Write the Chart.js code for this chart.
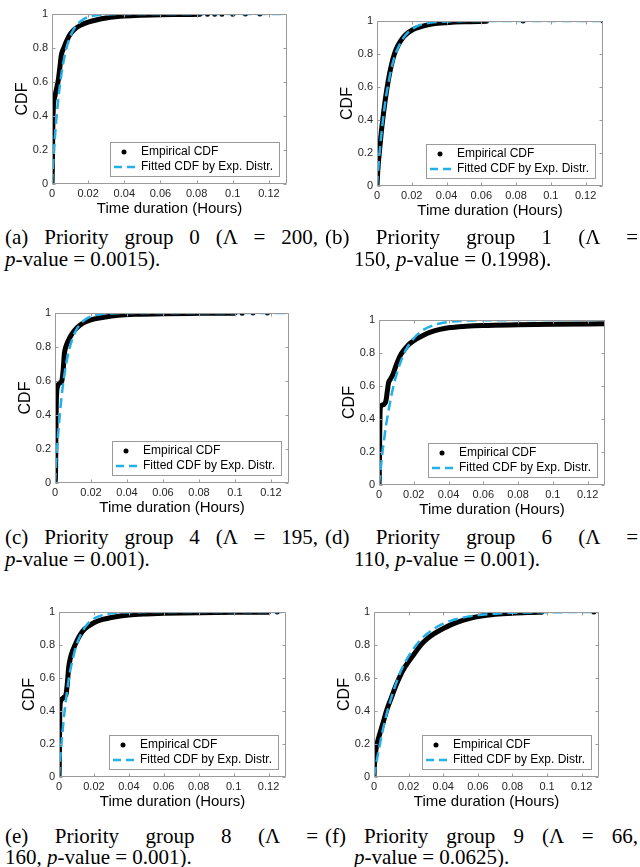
<!DOCTYPE html>
<html>
<head>
<meta charset="utf-8">
<script src="https://cdn.jsdelivr.net/npm/chart.js@4.4.0/dist/chart.umd.min.js"></script>
<style>
  body { margin: 0; background: #fff; }
  #page { position: relative; width: 640px; height: 867px; overflow: hidden; }
  canvas { position: absolute; }
  .cap {
    position: absolute;
    font-family: "Liberation Serif", "Times New Roman", serif;
    font-size: 21px;
    line-height: 22px;
    color: #000;
    white-space: nowrap;
  }
  .cap.full { text-align: justify; text-align-last: justify; white-space: normal; }
</style>
</head>
<body>
<div id="page">
  <canvas id="cdfA"></canvas>
  <canvas id="cdfB"></canvas>
  <canvas id="cdfC"></canvas>
  <canvas id="cdfD"></canvas>
  <canvas id="cdfE"></canvas>
  <canvas id="cdfF"></canvas>

  <div class="cap full" style="left:5px; top:226px; width:313px;">(a) Priority group 0 (Λ = 200,</div>
  <div class="cap" style="left:5px; top:248px;"><i>p</i>-value = 0.0015).</div>
  <div class="cap full" style="left:325px; top:226px; width:313px;">(b) Priority group 1 (Λ =</div>
  <div class="cap" style="left:354px; top:248px;">150, <i>p</i>-value = 0.1998).</div>

  <div class="cap full" style="left:5px; top:526px; width:313px;">(c) Priority group 4 (Λ = 195,</div>
  <div class="cap" style="left:5px; top:548px;"><i>p</i>-value = 0.001).</div>
  <div class="cap full" style="left:325px; top:526px; width:313px;">(d) Priority group 6 (Λ =</div>
  <div class="cap" style="left:354px; top:548px;">110, <i>p</i>-value = 0.001).</div>

  <div class="cap full" style="left:5px; top:825px; width:313px;">(e) Priority group 8 (Λ =</div>
  <div class="cap" style="left:5px; top:846px;">160, <i>p</i>-value = 0.001).</div>
  <div class="cap full" style="left:325px; top:825px; width:313px;">(f) Priority group 9 (Λ = 66,</div>
  <div class="cap" style="left:354px; top:846px;"><i>p</i>-value = 0.0625).</div>
</div>

<script>
const xTicks = [0, 0.02, 0.04, 0.06, 0.08, 0.1, 0.12];
const yTicks = [0, 0.2, 0.4, 0.6, 0.8, 1];
const xMax = 0.13;
const seriesLabels = ['Empirical CDF', 'Fitted CDF by Exp. Distr.'];

// group 0
const empiricalA = [[0,0],[0.0002,0.1],[0.0004,0.3],[0.0008,0.46],[0.0015,0.51],[0.0025,0.56],[0.0036,0.62],[0.0045,0.7],[0.0052,0.76],[0.0065,0.8],[0.008,0.84],[0.01,0.88],[0.013,0.915],[0.016,0.935],[0.02,0.952],[0.025,0.966],[0.03,0.976],[0.035,0.983],[0.04,0.988],[0.05,0.993],[0.06,0.996],[0.07,0.997],[0.082,0.998]];
const tailA = [[0.086,0.998],[0.09,0.999],[0.094,0.999],[0.1,0.999],[0.107,1],[0.115,1]];
const fittedA = [[0,0],[0.001,0.18],[0.002,0.33],[0.003,0.45],[0.004,0.55],[0.005,0.63],[0.006,0.7],[0.008,0.8],[0.01,0.865],[0.012,0.91],[0.015,0.95],[0.018,0.973],[0.022,0.988],[0.03,0.997],[0.04,0.9997],[0.06,1],[0.13,1]];

// group 1
const empiricalB = [[0,0],[0.0005,0.1],[0.0015,0.22],[0.0025,0.33],[0.0035,0.42],[0.005,0.54],[0.0065,0.64],[0.008,0.72],[0.01,0.8],[0.012,0.85],[0.015,0.9],[0.018,0.93],[0.021,0.95],[0.025,0.965],[0.03,0.978],[0.035,0.986],[0.04,0.99],[0.05,0.995],[0.063,0.998]];
const tailB = [[0.084,1],[0.13,1]];
const fittedB = [[0,0],[0.001,0.14],[0.002,0.26],[0.003,0.36],[0.004,0.45],[0.005,0.53],[0.0065,0.62],[0.008,0.7],[0.01,0.78],[0.012,0.835],[0.015,0.895],[0.018,0.933],[0.022,0.963],[0.026,0.98],[0.03,0.989],[0.04,0.9975],[0.05,0.9994],[0.13,1]];

// group 4
const empiricalC = [[0,0],[0.0003,0.05],[0.0005,0.3],[0.0007,0.46],[0.001,0.54],[0.0015,0.57],[0.0022,0.585],[0.003,0.59],[0.0038,0.6],[0.0045,0.66],[0.0052,0.76],[0.006,0.8],[0.0075,0.84],[0.009,0.87],[0.011,0.9],[0.014,0.93],[0.0175,0.95],[0.022,0.965],[0.028,0.977],[0.035,0.986],[0.045,0.992],[0.06,0.996],[0.08,0.998],[0.1,0.999]];
const tailC = [[0.104,0.999],[0.11,1],[0.118,1]];
const fittedC = [[0,0],[0.001,0.18],[0.002,0.32],[0.003,0.44],[0.004,0.54],[0.005,0.62],[0.006,0.69],[0.008,0.79],[0.01,0.858],[0.012,0.904],[0.015,0.946],[0.018,0.97],[0.022,0.986],[0.03,0.997],[0.04,0.9996],[0.13,1]];

// group 6
const empiricalD = [[0,0],[0.0002,0.08],[0.0004,0.3],[0.0006,0.44],[0.001,0.475],[0.002,0.485],[0.003,0.49],[0.004,0.51],[0.0048,0.57],[0.0055,0.62],[0.0065,0.64],[0.008,0.67],[0.01,0.73],[0.012,0.78],[0.0145,0.82],[0.017,0.85],[0.02,0.875],[0.025,0.905],[0.03,0.928],[0.035,0.943],[0.04,0.953],[0.05,0.962],[0.06,0.967],[0.08,0.971],[0.1,0.974],[0.13,0.977]];
const tailD = [];
const fittedD = [[0,0],[0.001,0.1],[0.002,0.2],[0.003,0.28],[0.004,0.36],[0.005,0.42],[0.006,0.48],[0.008,0.585],[0.01,0.667],[0.012,0.733],[0.015,0.81],[0.018,0.862],[0.022,0.911],[0.026,0.943],[0.03,0.963],[0.035,0.979],[0.04,0.988],[0.05,0.996],[0.06,0.9986],[0.13,1]];

// group 8
const empiricalE = [[0,0],[0.0002,0.1],[0.0004,0.35],[0.0006,0.43],[0.001,0.46],[0.002,0.475],[0.003,0.485],[0.004,0.5],[0.0048,0.57],[0.0055,0.66],[0.0065,0.72],[0.008,0.77],[0.01,0.82],[0.012,0.86],[0.0145,0.895],[0.017,0.915],[0.02,0.935],[0.025,0.955],[0.03,0.967],[0.035,0.976],[0.04,0.982],[0.05,0.988],[0.06,0.992],[0.08,0.996],[0.1,0.998],[0.12,0.999]];
const tailE = [[0.125,1]];
const fittedE = [[0,0],[0.001,0.15],[0.002,0.27],[0.003,0.38],[0.004,0.47],[0.005,0.55],[0.006,0.62],[0.008,0.72],[0.01,0.8],[0.012,0.853],[0.015,0.91],[0.018,0.944],[0.022,0.97],[0.026,0.984],[0.03,0.992],[0.04,0.998],[0.06,1],[0.13,1]];

// group 9
const empiricalF = [[0,0],[0.0002,0.06],[0.0006,0.12],[0.0012,0.17],[0.002,0.21],[0.003,0.25],[0.005,0.32],[0.0075,0.41],[0.01,0.48],[0.0125,0.55],[0.015,0.61],[0.0175,0.66],[0.02,0.7],[0.0235,0.75],[0.027,0.8],[0.031,0.84],[0.035,0.87],[0.04,0.9],[0.045,0.925],[0.05,0.945],[0.055,0.96],[0.06,0.972],[0.065,0.98],[0.07,0.986],[0.08,0.993],[0.09,0.997],[0.097,0.999]];
const tailF = [[0.127,1]];
const fittedF = [[0,0],[0.001,0.064],[0.0025,0.15],[0.005,0.28],[0.0075,0.39],[0.01,0.48],[0.0125,0.56],[0.015,0.63],[0.0175,0.685],[0.02,0.733],[0.025,0.808],[0.03,0.862],[0.035,0.901],[0.04,0.929],[0.045,0.949],[0.05,0.963],[0.06,0.981],[0.07,0.99],[0.08,0.995],[0.09,0.9974],[0.1,0.9986],[0.13,1]];

const fitColor = '#22b0e8';
const boxColor = '#9a9a9a';
const tickColor = '#262626';
const sansFont = '"Liberation Sans", Arial, sans-serif';
const rowTops = [0, 295, 595];

// plot area of every panel on the page: left, top, right, bottom
const panels = [
    { id: 'cdfA', col: 0, row: 0, box: [52, 14, 287, 184], emp: empiricalA, fit: fittedA, tail: tailA },
    { id: 'cdfB', col: 1, row: 0, box: [377, 21, 603, 186], emp: empiricalB, fit: fittedB, tail: tailB },
    { id: 'cdfC', col: 0, row: 1, box: [55, 313, 289, 483], emp: empiricalC, fit: fittedC, tail: tailC },
    { id: 'cdfD', col: 1, row: 1, box: [379, 320, 605, 485], emp: empiricalD, fit: fittedD, tail: tailD },
    { id: 'cdfE', col: 0, row: 2, box: [59, 612, 286, 777], emp: empiricalE, fit: fittedE, tail: tailE },
    { id: 'cdfF', col: 1, row: 2, box: [374, 612, 599, 777], emp: empiricalF, fit: fittedF, tail: tailF }
];

const toPoints = (pairs) => pairs.map(p => ({ x: p[0], y: p[1] }));

// box around the axes with short inward ticks on all four sides
const axisBox = {
    id: 'axisBox',
    afterDatasetsDraw(chart) {
        const { ctx, chartArea: a, scales: { x, y } } = chart;
        const l = Math.round(a.left) + 0.5, r = Math.round(a.right) - 0.5;
        const t = Math.round(a.top) + 0.5, b = Math.round(a.bottom) - 0.5;
        ctx.save();
        ctx.strokeStyle = boxColor;
        ctx.lineWidth = 1;
        ctx.beginPath();
        xTicks.forEach(v => {
            const px = Math.round(x.getPixelForValue(v)) + 0.5;
            ctx.moveTo(px, b); ctx.lineTo(px, b - 3);
            ctx.moveTo(px, t); ctx.lineTo(px, t + 3);
        });
        yTicks.forEach(v => {
            const py = Math.round(y.getPixelForValue(v)) + 0.5;
            ctx.moveTo(l, py); ctx.lineTo(l + 3, py);
            ctx.moveTo(r, py); ctx.lineTo(r - 3, py);
        });
        ctx.rect(l, t, r - l, b - t);
        ctx.stroke();
        ctx.restore();
    }
};

// legend box in the lower right corner of the axes
const cornerLegend = {
    id: 'cornerLegend',
    afterDraw(chart) {
        const { ctx, chartArea: a } = chart;
        ctx.save();
        ctx.font = '12px ' + sansFont;
        const w = Math.round(31 + Math.max(...seriesLabels.map(s => ctx.measureText(s).width)) + 6);
        const h = 34;
        const left = Math.round(a.right) - 8 - w;
        const top = Math.round(a.bottom) - 8 - h;
        ctx.fillStyle = '#fff';
        ctx.fillRect(left, top, w, h);
        ctx.strokeStyle = boxColor;
        ctx.lineWidth = 1;
        ctx.strokeRect(left + 0.5, top + 0.5, w, h);

        ctx.fillStyle = '#000';
        ctx.beginPath();
        ctx.arc(left + 14, top + 10, 2.5, 0, Math.PI * 2);
        ctx.fill();

        ctx.strokeStyle = fitColor;
        ctx.lineWidth = 2.5;
        ctx.setLineDash([8, 5]);
        ctx.beginPath();
        ctx.moveTo(left + 4, top + 25);
        ctx.lineTo(left + 25, top + 25);
        ctx.stroke();

        ctx.fillStyle = '#000';
        ctx.textAlign = 'left';
        ctx.textBaseline = 'middle';
        ctx.fillText(seriesLabels[0], left + 31, top + 10);
        ctx.fillText(seriesLabels[1], left + 31, top + 25);
        ctx.restore();
    }
};

const renderPanel = (p) => {
    const cx = p.col * 320;
    const cy = rowTops[p.row];
    const [L, T, R, B] = p.box;
    const H = B + 40 - cy;

    const canvas = document.getElementById(p.id);
    canvas.width = 320;
    canvas.height = H;
    canvas.style.left = cx + 'px';
    canvas.style.top = cy + 'px';

    new Chart(canvas, {
        type: 'line',
        data: {
            datasets: [{
                label: seriesLabels[1],
                data: toPoints(p.fit),
                borderColor: fitColor,
                borderWidth: 2.5,
                borderDash: [10, 5],
                pointRadius: 0,
                cubicInterpolationMode: 'monotone',
                order: 0
            }, {
                label: seriesLabels[0],
                data: toPoints(p.emp),
                borderColor: '#000',
                borderWidth: 5,
                borderCapStyle: 'round',
                borderJoinStyle: 'round',
                pointRadius: 0,
                cubicInterpolationMode: 'monotone',
                order: 1
            }, {
                label: seriesLabels[0],
                data: toPoints(p.tail),
                showLine: false,
                pointRadius: 2.5,
                pointBorderWidth: 0,
                pointBackgroundColor: '#000',
                order: 2
            }]
        },
        options: {
            responsive: false,
            animation: false,
            devicePixelRatio: 1,
            events: [],
            layout: { padding: { top: T - cy, right: cx + 320 - R, left: 0, bottom: 0 } },
            plugins: { legend: { display: false }, tooltip: { enabled: false } },
            scales: {
                x: {
                    type: 'linear',
                    min: 0,
                    max: xMax,
                    grid: { display: false, drawTicks: false },
                    border: { display: false },
                    afterBuildTicks: s => { s.ticks = xTicks.map(v => ({ value: v })); },
                    afterFit: s => { s.height = cy + H - B; },
                    ticks: {
                        color: tickColor,
                        font: { size: 11, family: sansFont },
                        padding: 3,
                        maxRotation: 0,
                        autoSkip: false,
                        callback: v => String(v)
                    },
                    title: {
                        display: true,
                        text: 'Time duration (Hours)',
                        color: '#000',
                        font: { size: 15, family: sansFont, lineHeight: 1.2 },
                        padding: { top: 0, bottom: 6 }
                    }
                },
                y: {
                    type: 'linear',
                    min: 0,
                    max: 1,
                    grid: { display: false, drawTicks: false },
                    border: { display: false },
                    afterBuildTicks: s => { s.ticks = yTicks.map(v => ({ value: v })); },
                    afterFit: s => { s.width = L - cx; },
                    ticks: {
                        color: tickColor,
                        font: { size: 11, family: sansFont },
                        padding: 4,
                        autoSkip: false,
                        callback: v => String(v)
                    },
                    title: {
                        display: true,
                        text: 'CDF',
                        color: '#000',
                        font: { size: 16, family: sansFont, lineHeight: 1.2 },
                        padding: { top: L - 29 - cx - 9.6, bottom: 0 }
                    }
                }
            }
        },
        plugins: [axisBox, cornerLegend]
    });
};

panels.forEach(renderPanel);
</script>
</body>
</html>
